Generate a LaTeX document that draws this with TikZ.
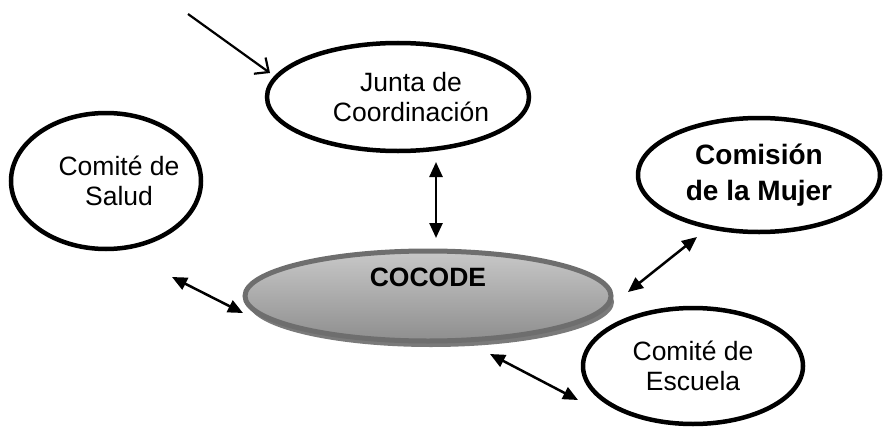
\documentclass[tikz,border=0pt]{standalone}
\usepackage{fontspec}
\setmainfont{Liberation Sans}
\usetikzlibrary{shapes.geometric,arrows.meta}
\definecolor{cborder}{HTML}{6E6E6E}
\definecolor{ctop}{HTML}{C8C8C8}
\definecolor{cbot}{HTML}{8E8E8E}
\definecolor{cshadow}{HTML}{7A7A7A}
\newcommand{\shiftline}[2]{\makebox[0pt]{\hspace*{#1}#2}}
\begin{document}
\begin{tikzpicture}[x=1pt,y=-1pt,
  oval/.style={ellipse,draw=black,line width=4.5pt,fill=white,inner sep=0pt,align=center,
    font=\fontsize{26.5}{30}\selectfont},
  boldoval/.style={oval,font=\fontsize{28}{36}\selectfont\bfseries},
  link/.style={line width=2.5pt,{Triangle[length=15pt,width=13pt]}-{Triangle[length=15pt,width=13pt]}},
  inarrow/.style={line width=2.2pt,-{Straight Barb[length=11pt,width=20pt,line width=2.2pt]}},
]
\useasboundingbox (0,0) rectangle (893,436);
\node[oval,minimum width=262pt,minimum height=108pt] (junta) at (398,97)
  {\shiftline{26pt}{Junta de}\\\shiftline{26pt}{Coordinación}};
\node[boldoval,minimum width=242pt,minimum height=114pt] (mujer) at (759,175) {Comisión\\de la Mujer};
\node[oval,minimum width=190pt,minimum height=136pt] (salud) at (106,181)
  {\shiftline{26pt}{Comité de}\\\shiftline{26pt}{Salud}};
\node[oval,minimum width=220pt,minimum height=116pt] (escuela) at (693,366) {Comité de\\Escuela};
\fill[cshadow] (431,302) ellipse [x radius=183pt, y radius=45pt];
\node[ellipse,draw=cborder,line width=5pt,top color=ctop,bottom color=cbot,
  minimum width=366pt,minimum height=90pt,inner sep=0pt,text depth=38pt,
  font=\fontsize{26.5}{30}\selectfont\bfseries] (cocode) at (428,296) {COCODE};
\coordinate (inS) at (188,14);
\coordinate (inE) at (270,73);
\coordinate (vA) at (436,162);
\coordinate (vB) at (436,238);
\coordinate (sA) at (172,277);
\coordinate (sB) at (243,313);
\coordinate (mA) at (697,237);
\coordinate (mB) at (628,292);
\coordinate (eA) at (490,354);
\coordinate (eB) at (578,400);
\draw[inarrow] (inS) -- (inE);
\draw[link] (vA) -- (vB);
\draw[link] (sA) -- (sB);
\draw[link] (mA) -- (mB);
\draw[link] (eA) -- (eB);
\end{tikzpicture}
\end{document}
